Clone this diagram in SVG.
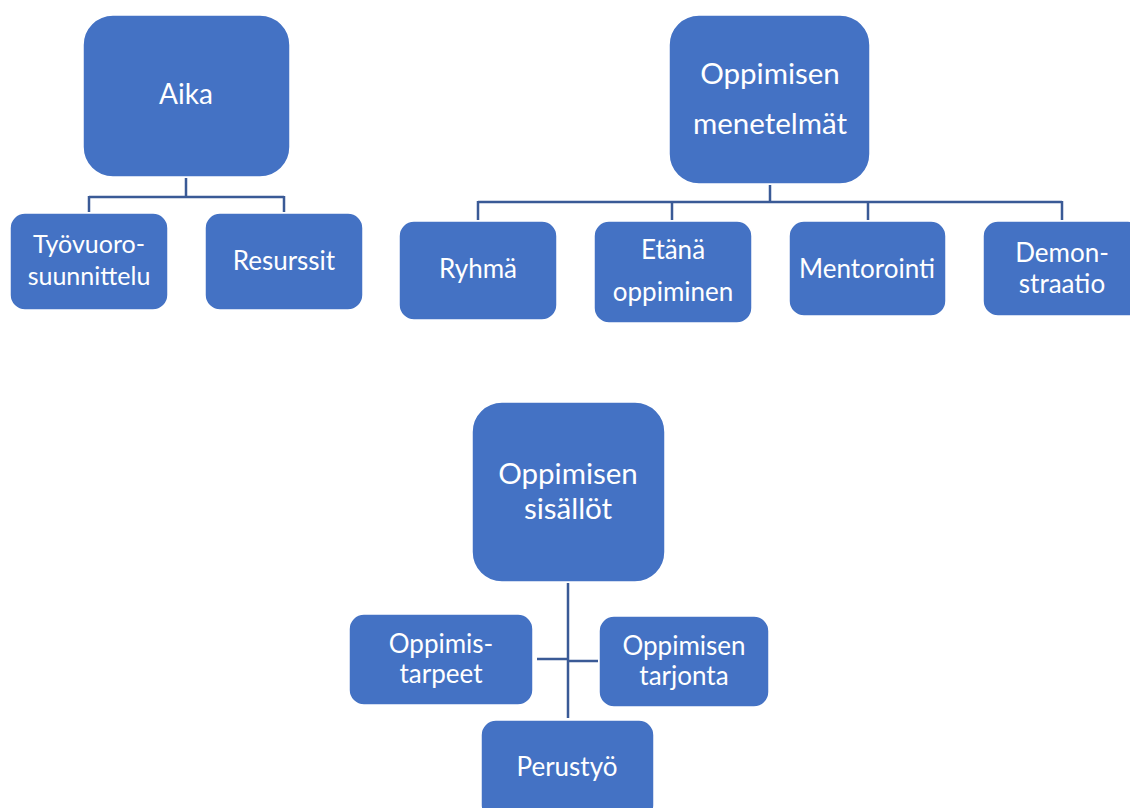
<svg xmlns="http://www.w3.org/2000/svg" width="1130" height="808" viewBox="0 0 1130 808">
<style>
.box{fill:#4472C4;stroke:#ffffff;stroke-width:1.5}
.t{font-family:Lato,"Open Sans","Liberation Sans",sans-serif;fill:#ffffff;text-anchor:middle}
.big{font-size:29.5px}
.sm{font-size:26px}
.c{fill:none;stroke:#3A5A96;stroke-width:2.5}
</style>
<rect width="1130" height="808" fill="#ffffff"/>
<g id="connectors">
<path class="c" d="M186 178V197M89 197H284M89 196V212M284 196V212"/>
<path class="c" d="M770 185V202M478 202H1062M478 201V220M672 201V220M868 201V220M1062 201V220"/>
<path class="c" d="M568 583V718M537 659H568M568 661H598"/>
</g>
<g id="aika"><rect class="box" x="83" y="15" width="207" height="162" rx="30"/><text class="t" style="font-size:28px" x="186" y="104">Aika</text></g>
<g id="tyovuoro"><rect class="box" x="10" y="213" width="158" height="97" rx="15"/><text class="t" style="font-size:25px" x="89" y="253">Työvuoro-</text><text class="t" style="font-size:25px" x="89" y="285">suunnittelu</text></g>
<g id="resurssit"><rect class="box" x="205" y="213" width="158" height="97" rx="15"/><text class="t sm" x="284" y="270">Resurssit</text></g>
<g id="menetelmat"><rect class="box" x="669" y="15" width="201" height="169" rx="30"/><text class="t big" x="770" y="84">Oppimisen</text><text class="t big" x="770" y="134">menetelmät</text></g>
<g id="ryhma"><rect class="box" x="399" y="221" width="158" height="99" rx="15"/><text class="t sm" x="478" y="278">Ryhmä</text></g>
<g id="etana"><rect class="box" x="594" y="221" width="158" height="102" rx="15"/><text class="t sm" x="673" y="259">Etänä</text><text class="t sm" x="673" y="301">oppiminen</text></g>
<g id="mentorointi"><rect class="box" x="789" y="221" width="157" height="95" rx="15"/><text class="t sm" x="867" y="278">Mentorointi</text></g>
<g id="demonstraatio"><rect class="box" x="983" y="221" width="160" height="95" rx="15"/><text class="t sm" x="1062" y="262">Demon-</text><text class="t sm" x="1062" y="293">straatio</text></g>
<g id="sisallot"><rect class="box" x="472" y="402" width="193" height="180" rx="30"/><text class="t big" x="568" y="484">Oppimisen</text><text class="t big" x="568" y="519">sisällöt</text></g>
<g id="tarpeet"><rect class="box" x="349" y="614" width="184" height="91" rx="15"/><text class="t sm" x="441" y="653">Oppimis-</text><text class="t sm" x="441" y="683">tarpeet</text></g>
<g id="tarjonta"><rect class="box" x="599" y="616" width="170" height="91" rx="15"/><text class="t sm" x="684" y="655">Oppimisen</text><text class="t sm" x="684" y="685">tarjonta</text></g>
<g id="perustyo"><rect class="box" x="481" y="720" width="173" height="100" rx="15"/><text class="t sm" x="567" y="776">Perustyö</text></g>
</svg>
